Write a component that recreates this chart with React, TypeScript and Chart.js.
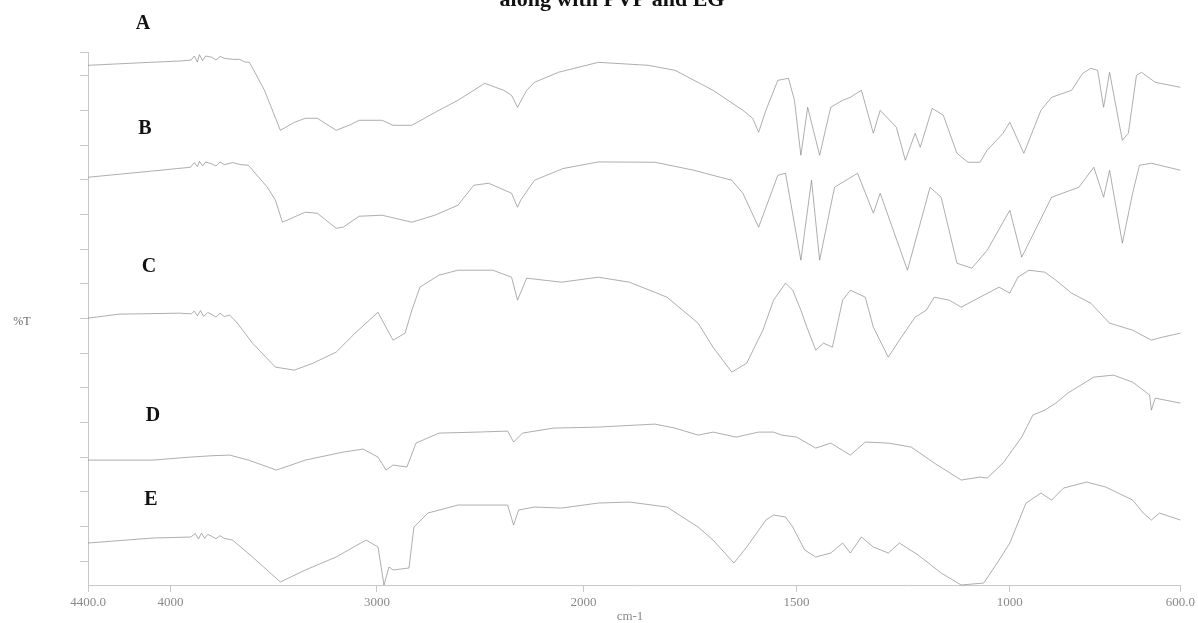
import React, { useEffect, useRef } from "react";
import { Chart, registerables, LinearScale } from "chart.js";

Chart.register(...registerables);

// ---------- data ----------
const SERIES_LABELS = ["A", "B", "C", "D", "E"];

const X_TICKS = [4400, 4000, 3000, 2000, 1500, 1000, 600];
const X_TICK_LABELS = ["4400.0", "4000", "3000", "2000", "1500", "1000", "600.0"];
const Y_TICKS = [7.2, 17.6, 28, 38.4, 48.8, 59.2, 69.6, 80, 90.4, 100.8, 111.2, 121.6, 132, 142.4, 152.8, 160];

const A_WN = [4400, 4100, 3950, 3900, 3885, 3870, 3860, 3845, 3830, 3800, 3780, 3760, 3740, 3700, 3666, 3640, 3618, 3545, 3468, 3400, 3347, 3289, 3198, 3135, 3086, 2975, 2922, 2831, 2700, 2608, 2478, 2386, 2348, 2319, 2275, 2237, 2121, 1965, 1848, 1785, 1696, 1626, 1603, 1589, 1572, 1544, 1519, 1505, 1490, 1474, 1446, 1420, 1392, 1374, 1348, 1320, 1304, 1266, 1245, 1222, 1210, 1182, 1156, 1124, 1098, 1070, 1053, 1016, 1000, 967, 927, 902, 855, 829, 810, 794, 780, 766, 745, 736, 722, 703, 691, 659, 600];
const A_T = [156, 156.9, 157.3, 157.6, 158.8, 157, 159.2, 157.4, 158.8, 158.4, 157.6, 158.7, 158.1, 157.8, 157.8, 157, 156.9, 148.5, 136.5, 138.9, 140.1, 140.1, 136.5, 138, 139.5, 139.5, 138, 138, 142.5, 145.5, 150.6, 148.5, 147, 143.4, 148.5, 150.9, 153.9, 156.9, 156, 154.5, 148.5, 142.5, 140.1, 135.9, 142.5, 151.5, 152.1, 145.5, 129, 143.4, 129, 143.4, 145.5, 146.4, 148.5, 135.6, 142.5, 137.4, 127.5, 135.6, 131.4, 143.1, 141, 129.6, 126.9, 126.9, 130.5, 135.6, 138.9, 129.6, 142.5, 146.4, 148.5, 153.6, 155.1, 154.5, 143.4, 153.9, 139.5, 133.5, 135.6, 153, 153.9, 150.9, 149.4];

const B_WN = [4400, 4100, 3903, 3885, 3870, 3860, 3845, 3830, 3800, 3780, 3760, 3740, 3700, 3660, 3623, 3531, 3492, 3458, 3400, 3347, 3289, 3198, 3164, 3086, 2975, 2831, 2720, 2608, 2531, 2459, 2348, 2319, 2304, 2237, 2100, 1965, 1832, 1741, 1652, 1626, 1589, 1544, 1526, 1490, 1465, 1446, 1411, 1357, 1320, 1304, 1240, 1187, 1161, 1124, 1089, 1053, 1000, 972, 902, 838, 803, 780, 766, 736, 712, 696, 668, 600];
const B_T = [122.4, 124.2, 125.4, 126.8, 125.6, 127.2, 125.8, 127, 126.4, 125.8, 127, 126.2, 126.8, 126.2, 126, 119.4, 115.5, 108.9, 110.5, 111.9, 111.6, 107.1, 107.4, 110.7, 111, 108.9, 111, 114, 120, 120.6, 117.6, 113.4, 115.5, 121.5, 125, 127, 126.9, 124.5, 121.5, 117.6, 107.4, 123, 123.6, 97.5, 121.5, 97.5, 119.4, 123.6, 111.6, 117.6, 94.5, 119.4, 116.4, 96.6, 95.1, 100.5, 112.5, 98.4, 116.4, 119.4, 125.4, 116.4, 124.5, 102.6, 117.6, 126, 126.6, 124.5];

const C_WN = [4400, 4250, 3956, 3900, 3885, 3870, 3855, 3840, 3820, 3800, 3780, 3760, 3740, 3714, 3680, 3603, 3492, 3400, 3309, 3198, 3106, 2995, 2975, 2922, 2864, 2831, 2792, 2700, 2608, 2439, 2348, 2319, 2275, 2106, 1965, 1892, 1804, 1731, 1696, 1652, 1617, 1579, 1554, 1526, 1509, 1490, 1476, 1455, 1437, 1416, 1392, 1374, 1339, 1320, 1285, 1259, 1222, 1196, 1177, 1142, 1114, 1070, 1025, 1000, 981, 955, 918, 892, 855, 810, 766, 712, 668, 642, 600];
const C_T = [80.1, 81.3, 81.6, 81.4, 82.2, 80.8, 82.4, 80.6, 81.8, 81.2, 80.4, 81.6, 80.6, 81, 78.9, 72.6, 65.4, 64.5, 66.6, 69.9, 75.6, 81.9, 79.5, 73.5, 75.6, 82.5, 89.4, 93, 94.5, 94.5, 92.4, 85.5, 92.1, 90.9, 92.4, 90.9, 86.4, 78.6, 71.4, 63.9, 66.6, 76.5, 85.5, 90.6, 88.5, 82.5, 77.4, 70.5, 72.6, 71.4, 85.5, 88.5, 86.4, 77.4, 68.4, 73.5, 80.4, 82.5, 86.4, 85.5, 83.4, 86.4, 89.4, 87.6, 92.4, 94.5, 93.9, 91.5, 87.6, 84.6, 78.6, 76.5, 73.5, 74.4, 75.6];

const D_WN = [4400, 4086, 3903, 3800, 3714, 3623, 3487, 3347, 3164, 3067, 2995, 2956, 2922, 2855, 2811, 2700, 2517, 2367, 2338, 2295, 2145, 1965, 1832, 1785, 1731, 1696, 1642, 1589, 1554, 1535, 1500, 1455, 1420, 1374, 1339, 1285, 1231, 1177, 1114, 1070, 1053, 1016, 972, 946, 918, 892, 864, 803, 757, 712, 687, 672, 668, 659, 600];
const D_T = [37.5, 37.5, 38.4, 38.8, 39, 37.5, 34.5, 37.5, 39.9, 40.8, 38.4, 34.5, 36, 35.4, 42.6, 45.6, 45.9, 46.2, 42.9, 45.6, 47.1, 47.4, 48.3, 47.1, 45, 45.9, 44.4, 45.9, 45.9, 45, 44.4, 41.1, 42.6, 39, 42.9, 42.6, 41.4, 36.6, 31.5, 32.4, 32.1, 36.6, 44.4, 51, 52.5, 54.6, 57.6, 62.4, 63, 60.9, 58.5, 57, 52.5, 56.1, 54.6];

const E_WN = [4400, 4086, 3903, 3880, 3865, 3850, 3835, 3820, 3800, 3780, 3760, 3740, 3700, 3603, 3468, 3347, 3198, 3053, 2995, 2966, 2942, 2922, 2845, 2821, 2753, 2608, 2367, 2338, 2314, 2237, 2106, 1965, 1892, 1804, 1731, 1696, 1647, 1617, 1572, 1554, 1526, 1509, 1481, 1455, 1420, 1392, 1374, 1348, 1320, 1285, 1259, 1215, 1161, 1114, 1061, 1025, 1000, 962, 927, 902, 874, 820, 775, 712, 687, 668, 649, 600];
const E_T = [12.6, 14.1, 14.4, 15.4, 13.8, 15.6, 14, 15.2, 14.6, 13.9, 14.8, 14, 13.5, 8.4, 0.9, 4.5, 8.4, 13.5, 11.4, 0, 5.4, 4.5, 5.1, 17.4, 21.6, 24, 24, 18, 22.5, 23.4, 23.1, 24.6, 24.9, 23.4, 17.4, 13.5, 6.6, 11.4, 19.5, 21, 20.4, 17.4, 10.5, 8.4, 9.6, 12.6, 9.6, 14.4, 11.4, 9.6, 12.6, 9, 3.6, 0, 0.6, 7.5, 12.6, 24.6, 27.6, 25.5, 29.1, 30.9, 29.4, 25.5, 21.6, 19.5, 21.6, 19.5];

const SERIES_WN = [A_WN, B_WN, C_WN, D_WN, E_WN];
const SERIES_T = [A_T, B_T, C_T, D_T, E_T];

// ---------- style / layout ----------
const SPLIT = 0.4535; // fraction of axis width used by 4400-2000 (scale expansion below 2000)
const LINE_COLOR = "rgba(125,125,125,0.62)";
const AXIS_COLOR = "#c8c8c8";
const TICK_COLOR = "#8a8a8a";
const SERIF = "'Liberation Serif', 'Times New Roman', serif";
const LETTER_POS = [
  [143, 24],
  [145, 129],
  [149, 267],
  [153, 416],
  [151, 500],
];

class FtirScale extends LinearScale {
  static id = "ftir";
  static defaults = LinearScale.defaults;
  getPixelForValue(value: number) {
    const t =
      value >= 2000
        ? ((4400 - value) / 2400) * SPLIT
        : SPLIT + ((2000 - value) / 1400) * (1 - SPLIT);
    return this.left + t * this.width;
  }
  getValueForPixel(pixel: number) {
    const t = (pixel - this.left) / this.width;
    return t <= SPLIT
      ? 4400 - (t / SPLIT) * 2400
      : 2000 - ((t - SPLIT) / (1 - SPLIT)) * 1400;
  }
}
Chart.register(FtirScale as any);

const textPlugin = {
  id: "ftirText",
  afterDraw(chart: any) {
    const ctx = chart.ctx as CanvasRenderingContext2D;
    ctx.save();
    ctx.fillStyle = "#111";
    ctx.textAlign = "center";
    ctx.textBaseline = "alphabetic";
    ctx.font = `bold 22px ${SERIF}`;
    ctx.fillText("along with PVP and EG", 612, 6);
    ctx.textBaseline = "middle";
    ctx.font = `bold 20px ${SERIF}`;
    SERIES_LABELS.forEach((l, i) => ctx.fillText(l, LETTER_POS[i][0], LETTER_POS[i][1]));
    ctx.fillStyle = "#666";
    ctx.font = `12px ${SERIF}`;
    ctx.fillText("%T", 22, 322);
    ctx.fillStyle = TICK_COLOR;
    ctx.font = `13px ${SERIF}`;
    ctx.fillText("cm-1", 630, 617);
    ctx.restore();
  },
};

export default function App() {
  const ref = useRef<HTMLCanvasElement>(null);
  useEffect(() => {
    if (!ref.current) return;
    const datasets = SERIES_LABELS.map((label, i) => ({
      label,
      data: SERIES_WN[i].map((x, j) => ({ x, y: SERIES_T[i][j] })),
      borderColor: LINE_COLOR,
      borderWidth: 1,
      pointRadius: 0,
      tension: 0,
      fill: false,
      clip: 8,
    }));
    const chart = new Chart(ref.current, {
      type: "line",
      data: { datasets },
      options: {
        responsive: false,
        animation: false,
        events: [],
        layout: { padding: { top: 52, right: 14, left: 0, bottom: 0 } },
        plugins: {
          legend: { display: false },
          tooltip: { enabled: false },
          title: { display: false },
        },
        scales: {
          x: {
            type: "ftir" as any,
            min: 600,
            max: 4400,
            afterBuildTicks: (s: any) => {
              s.ticks = X_TICKS.map((v) => ({ value: v }));
            },
            afterFit: (s: any) => {
              s.height = 38;
            },
            grid: { drawOnChartArea: false, tickLength: 7, color: AXIS_COLOR },
            border: { color: AXIS_COLOR, width: 1 },
            ticks: {
              autoSkip: false,
              maxRotation: 0,
              minRotation: 0,
              padding: 3,
              color: TICK_COLOR,
              font: { family: SERIF, size: 13 },
              callback: (v: any) => X_TICK_LABELS[X_TICKS.indexOf(Number(v))] ?? "",
            },
          },
          y: {
            type: "linear",
            min: 0,
            max: 160,
            afterBuildTicks: (s: any) => {
              s.ticks = Y_TICKS.map((v) => ({ value: v }));
            },
            afterFit: (s: any) => {
              s.width = 88;
            },
            grid: { drawOnChartArea: false, tickLength: 8, color: AXIS_COLOR },
            border: { color: AXIS_COLOR, width: 1 },
            ticks: { display: false },
          },
        },
      } as any,
      plugins: [textPlugin],
    });
    return () => chart.destroy();
  }, []);
  return (
    <div style={{ position: "absolute", left: 0, top: 0, width: 1198, height: 623, background: "#fff" }}>
      <canvas ref={ref} width={1198} height={623} style={{ display: "block" }} />
    </div>
  );
}
